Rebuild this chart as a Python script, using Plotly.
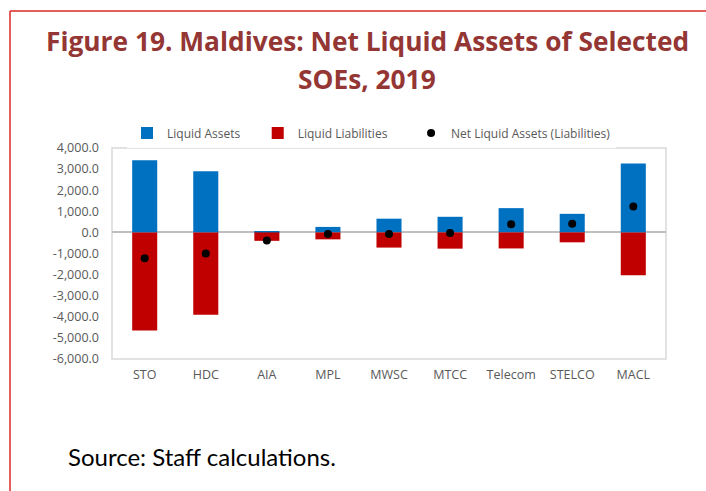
import plotly.graph_objects as go

categories = ["STO", "HDC", "AIA", "MPL", "MWSC", "MTCC", "Telecom", "STELCO", "MACL"]
liquid_assets = [3420, 2900, 20, 260, 650, 740, 1150, 880, 3260]
liquid_liabilities = [-4650, -3900, -400, -330, -720, -770, -760, -470, -2030]
net_liquid = [-1230, -1000, -380, -70, -70, -30, 390, 410, 1230]
y_tickvals = [4000, 3000, 2000, 1000, 0, -1000, -2000, -3000, -4000, -5000, -6000]
y_ticktext = [f"{v:,.1f}" for v in y_tickvals]

FONT = "Open Sans"
GRAY = "#595959"
NB = "\u00a0"

fig = go.Figure()
fig.add_trace(go.Bar(x=categories, y=liquid_assets, name="Liquid Assets" + NB * 4,
                     marker=dict(color="#0070C0", line=dict(width=0)), hoverinfo="skip"))
fig.add_trace(go.Bar(x=categories, y=liquid_liabilities, name="Liquid Liabilities" + NB * 6,
                     marker=dict(color="#C00000", line=dict(width=0)), hoverinfo="skip"))
fig.add_trace(go.Scatter(x=categories, y=net_liquid, mode="markers",
                         name="Net Liquid Assets (Liabilities)",
                         marker=dict(color="black", size=8), hoverinfo="skip"))

L, R, T, B = 112, 40, 148, 132
W, H = 706, 491
pw, ph = W - L - R, H - T - B

def px_x(x):
    return (x - L) / pw

def px_y(y):
    return (H - B - y) / ph

fig.update_layout(
    width=W, height=H,
    margin=dict(l=L, r=R, t=T, b=B, autoexpand=False),
    paper_bgcolor="white", plot_bgcolor="white",
    barmode="relative", bargap=0.59,
    font=dict(family=FONT, color=GRAY, size=12),
    showlegend=True,
    legend=dict(orientation="h", x=px_x(127), y=px_y(133), xanchor="left", yanchor="middle",
                font=dict(size=12, color=GRAY), itemwidth=30, traceorder="normal"),
    xaxis=dict(showline=False, ticks="", tickfont=dict(size=12.5, color=GRAY),
               showgrid=False, zeroline=False, ticklabelstandoff=6),
    yaxis=dict(range=[-6000, 4000], tickvals=y_tickvals, ticktext=y_ticktext,
               showgrid=False, zeroline=True, zerolinecolor="#BFBFBF", zerolinewidth=2,
               showline=False, ticks="", tickfont=dict(size=12.5, color=GRAY),
               ticklabelstandoff=12),
)

# plot area border
fig.add_shape(type="rect", xref="paper", yref="paper", x0=0, x1=1, y0=0, y1=1,
              line=dict(color="#D9D9D9", width=1.5), layer="below")
# outer red frame (left and top)
fig.add_shape(type="line", xref="paper", yref="paper", x0=px_x(10), x1=px_x(10),
              y0=px_y(11), y1=px_y(495), line=dict(color="#DC2828", width=1.5))
fig.add_shape(type="line", xref="paper", yref="paper", x0=px_x(10), x1=px_x(710),
              y0=px_y(11), y1=px_y(11), line=dict(color="#DC2828", width=1.5))

fig.add_annotation(xref="paper", yref="paper", x=px_x(367), y=px_y(41),
                   text="<b>Figure 19. Maldives: Net Liquid Assets of Selected</b>",
                   showarrow=False, xanchor="center", yanchor="middle",
                   font=dict(family=FONT, size=26.3, color="#943634"))
fig.add_annotation(xref="paper", yref="paper", x=px_x(367), y=px_y(79),
                   text="<b>SOEs, 2019</b>",
                   showarrow=False, xanchor="center", yanchor="middle",
                   font=dict(family=FONT, size=26.3, color="#943634"))
fig.add_annotation(xref="paper", yref="paper", x=px_x(66), y=px_y(456),
                   text="Source: Staff calculations.", showarrow=False,
                   xanchor="left", yanchor="middle",
                   font=dict(family="Lato", size=24, color="black"))

fig.write_html("out.html", config={"displayModeBar": False},
               post_script="document.body.style.margin='0';document.body.style.overflow='hidden';")
